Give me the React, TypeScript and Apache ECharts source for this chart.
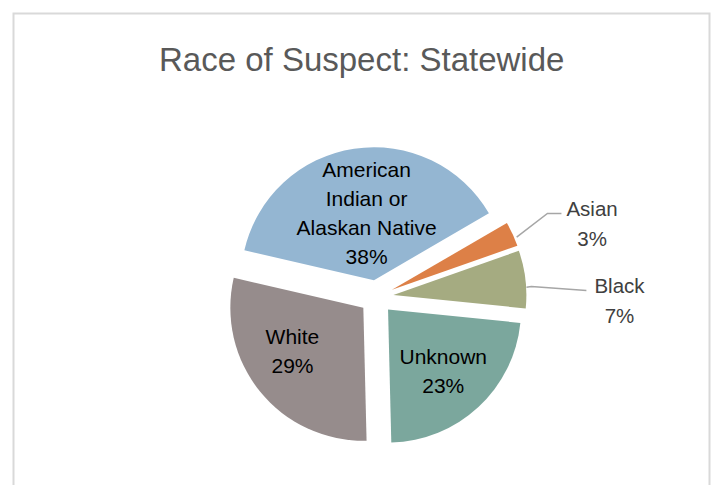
import { useEffect, useRef } from "react";
import * as echarts from "echarts";

const titleText = "Race of Suspect: Statewide";
const categories = ["American Indian or Alaskan Native", "Asian", "Black", "Unknown", "White"];
const labelLines = [["American", "Indian or", "Alaskan Native"], ["Asian"], ["Black"], ["Unknown"], ["White"]];
const shares = [38, 3, 7, 23, 29];
const colors = ["#94B6D2", "#DD8047", "#A5AB81", "#7BA79D", "#968C8C"];
const outside = [false, true, true, false, false];
const lineLen1 = [0, 35, 6];
const lineLen2 = [0, 17, 58];
// label nudges relative to the library's default placement
const nudgeX = [3, 0, 0, 8, -17];
const nudgeY = [2, 4, 22, 11, -1];
// leader-line point nudges relative to the library's default points
const lineNudge: (number[][] | null)[] = [
  null,
  [[4, 3], [3, -6], [0, -6]],
  [[1, 8], [0, 8], [-3, 12]],
  null,
  null,
];

export default function App() {
  const ref = useRef<HTMLDivElement>(null);
  useEffect(() => {
    document.body.style.margin = "0";
    const chart = echarts.init(ref.current!, null, { renderer: "svg" });
    const font = "'Liberation Sans', Arial, sans-serif";
    const data = categories.map((name, i) => {
      const out = outside[i];
      return {
        name,
        value: shares[i],
        selected: true,
        itemStyle: { color: colors[i] },
        label: out
          ? {
              position: "outside",
              formatter: () =>
                labelLines[i].map((l) => `{o|${l}}`).join("\n") + `\n{o|${shares[i]}%}`,
              rich: {
                o: { align: "center", fontSize: 20.5, lineHeight: 30, color: "#404040", fontFamily: font },
              },
            }
          : {
              position: "inside",
              formatter: () => labelLines[i].join("\n") + `\n${shares[i]}%`,
              fontSize: 21,
              lineHeight: 29,
              color: "#000000",
              fontFamily: font,
            },
        labelLine: out
          ? { show: true, length: lineLen1[i], length2: lineLen2[i], lineStyle: { color: "#A6A6A6", width: 1.5 } }
          : { show: false },
      };
    });
    chart.setOption({
      animation: false,
      backgroundColor: "#ffffff",
      title: {
        text: titleText,
        left: 154,
        top: 34,
        textStyle: { fontSize: 33, fontWeight: "normal", color: "#595959", fontFamily: font, lineHeight: 40 },
      },
      graphic: [
        {
          type: "rect",
          left: 11,
          top: 11,
          shape: { width: 696, height: 490 },
          style: { fill: "none", stroke: "#D9D9D9", lineWidth: 2 },
          silent: true,
        },
      ],
      series: [
        {
          type: "pie",
          center: [376.5, 297],
          radius: 133,
          startAngle: 167,
          clockwise: true,
          selectedMode: "multiple",
          selectedOffset: 17,
          avoidLabelOverlap: false,
          label: { show: true, position: "outside", fontFamily: font },
          labelLine: { show: true },
          labelLayout: (p: any) => {
            const i = p.dataIndex;
            const res: any = { dx: nudgeX[i], dy: nudgeY[i] };
            const ln = lineNudge[i];
            if (ln && p.labelLinePoints) {
              res.labelLinePoints = p.labelLinePoints.map((pt: number[], k: number) => [
                pt[0] + (ln[k] ? ln[k][0] : 0),
                pt[1] + (ln[k] ? ln[k][1] : 0),
              ]);
            }
            return res;
          },
          emphasis: { disabled: true },
          itemStyle: { borderWidth: 0 },
          data,
        },
      ],
    });
    return () => chart.dispose();
  }, []);
  return <div ref={ref} style={{ width: 711, height: 485 }} />;
}
